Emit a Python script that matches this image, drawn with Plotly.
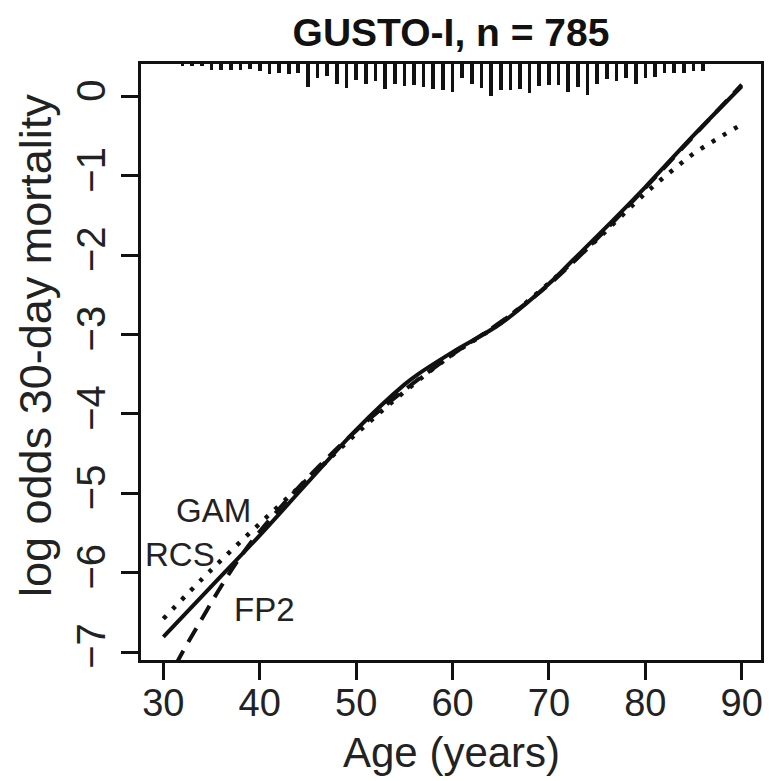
import plotly.graph_objects as go

# ---- data ----
ages = [30, 35, 40, 45, 50, 55, 56.4, 60, 65, 70, 72.5, 75, 80, 85, 90]
rcs_logodds = [-6.81, -6.17, -5.53, -4.86, -4.20, -3.63, -3.50, -3.22, -2.86, -2.36, -2.06, -1.76, -1.14, -0.49, 0.13]

gam_ages = [30, 35, 40, 45, 50, 55, 60, 65, 70, 75, 80, 82.6, 85, 87.5, 90]
gam_logodds = [-6.58, -5.96, -5.38, -4.82, -4.25, -3.72, -3.25, -2.85, -2.35, -1.80, -1.22, -0.95, -0.72, -0.53, -0.35]

fp2_ages = [30, 32, 34, 36, 38, 40, 45, 50, 55, 60, 65, 70, 75, 80, 85, 90]
fp2_logodds = [-7.45, -7.00, -6.58, -6.17, -5.80, -5.48, -4.80, -4.21, -3.70, -3.25, -2.84, -2.37, -1.79, -1.15, -0.50, 0.15]

rug_ages = list(range(32, 87))
rug_counts = [2, 2, 1, 5, 5, 5, 5, 4, 6, 9, 8, 9, 8, 20, 12, 10, 17, 21, 14, 17, 15, 22,
              17, 19, 18, 20, 22, 23, 24, 12, 17, 21, 28, 23, 23, 22, 25, 19, 18, 18, 24,
              20, 27, 17, 13, 15, 12, 17, 12, 11, 8, 8, 8, 6, 6]

x_ticks = [30, 40, 50, 60, 70, 80, 90]
y_ticks = [0, -1, -2, -3, -4, -5, -6, -7]

labels = ["GAM", "RCS", "FP2"]
label_x = [35.2, 31.7, 40.45]
label_y = [-5.21, -5.77, -6.46]

title_text = "GUSTO-I, n = 785"
x_title = "Age (years)"
y_title = "log odds 30-day mortality"

# ---- figure ----
X_RANGE = [27.68, 92.0]
Y_RANGE = [-7.1, 0.41]
FONT = "Liberation Sans, Arial, sans-serif"
spike_unit = 1.15 / 79.3  # data units per patient

fig = go.Figure()

fig.add_trace(go.Bar(
    x=rug_ages, y=[-c * spike_unit for c in rug_counts], base=Y_RANGE[1],
    width=0.38, marker=dict(color="#111", line=dict(width=0)), showlegend=False,
    hoverinfo="skip"))

fig.add_trace(go.Scatter(x=gam_ages, y=gam_logodds, mode="lines", line_shape="spline",
                         line=dict(color="#111", width=4.5, dash="4px,9px"), showlegend=False))
fig.add_trace(go.Scatter(x=fp2_ages, y=fp2_logodds, mode="lines", line_shape="spline",
                         line=dict(color="#111", width=4, dash="16px,10px"), showlegend=False))
fig.add_trace(go.Scatter(x=ages, y=rcs_logodds, mode="lines", line_shape="spline",
                         line=dict(color="#111", width=4), showlegend=False))

for t, lx, ly in zip(labels, label_x, label_y):
    fig.add_annotation(x=lx, y=ly, text=t, showarrow=False,
                       font=dict(size=33, color="#222", family=FONT),
                       xanchor="center", yanchor="middle")

fig.add_annotation(x=0.5, y=0, xref="paper", yref="paper", text=x_title, showarrow=False,
                   yshift=-92, yanchor="middle", font=dict(size=42, color="#222", family=FONT))
fig.add_annotation(x=0, y=0.5, xref="paper", yref="paper", text=y_title, showarrow=False,
                   xshift=-106, yshift=16, xanchor="center", yanchor="middle", textangle=-90,
                   font=dict(size=45, color="#222", family=FONT))

axis_common = dict(showgrid=False, zeroline=False, showline=True, linecolor="#111",
                   linewidth=3, mirror=True, ticks="outside", ticklen=17, tickwidth=3,
                   tickcolor="#111")

fig.update_layout(
    width=769, height=781,
    margin=dict(l=141, r=5, t=64, b=121),
    paper_bgcolor="white", plot_bgcolor="white",
    bargap=0,
    title=dict(text="<b>" + title_text + "</b>", x=0.5, xref="paper", y=1 - 32 / 781,
               yref="container", yanchor="middle", xanchor="center",
               font=dict(size=39, color="#111", family=FONT)),
    xaxis=dict(range=X_RANGE, tickvals=x_ticks, ticklabelstandoff=-10,
               tickfont=dict(size=38, color="#222", family=FONT), **axis_common),
    yaxis=dict(range=Y_RANGE, tickvals=y_ticks, tickangle=-90,
               tickfont=dict(size=40, color="#222", family=FONT), **axis_common),
)

fig.write_html("out.html", config={"displayModeBar": False},
               post_script="document.body.style.margin='0';document.body.style.overflow='hidden';")
